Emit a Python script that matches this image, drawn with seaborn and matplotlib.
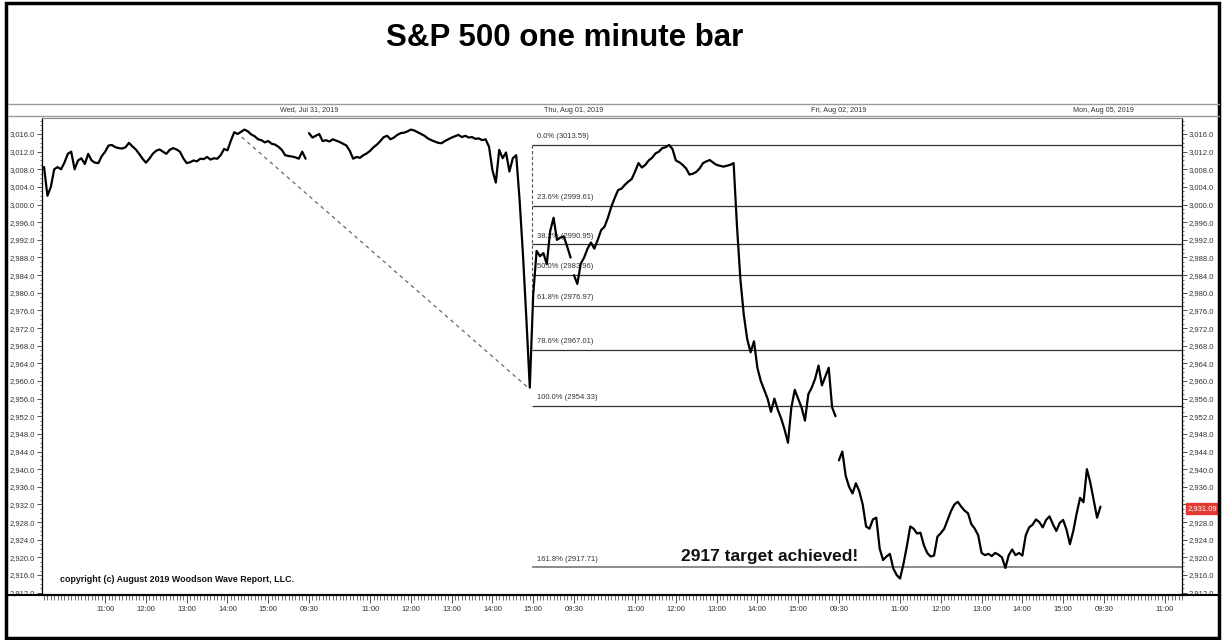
import numpy as np
import pandas as pd
import matplotlib
matplotlib.use("Agg")
import matplotlib.pyplot as plt
import matplotlib.ticker as mticker
from matplotlib.lines import Line2D
from matplotlib.patches import Rectangle
from matplotlib.transforms import blended_transform_factory
import seaborn as sns

# ---------------- data ----------------
title = "S&P 500 one minute bar"
session_names = ["Tue, Jul 30, 2019", "Wed, Jul 31, 2019", "Thu, Aug 01, 2019", "Fri, Aug 02, 2019"]
date_labels = ["Wed, Jul 31, 2019", "Thu, Aug 01, 2019", "Fri, Aug 02, 2019", "Mon, Aug 05, 2019"]

jul30 = [3008.5, 3002.0, 3004.0, 3008.0, 3008.5, 3008.0, 3009.5, 3011.5, 3012.0, 3008.0,
         3010.0, 3010.5, 3009.2, 3011.5, 3010.0, 3009.5, 3009.4, 3011.0, 3012.0, 3013.4,
         3013.5, 3013.0, 3012.8, 3012.7, 3013.0, 3014.0, 3013.2, 3012.5, 3011.5, 3010.4,
         3009.5, 3010.4, 3011.5, 3012.2, 3012.5, 3012.0, 3011.5, 3012.4, 3012.8, 3012.5,
         3012.0, 3010.5, 3009.4, 3009.6, 3010.0, 3009.8, 3010.4, 3010.3, 3010.8, 3010.2,
         3010.5, 3010.4, 3011.2, 3012.6, 3012.3, 3014.5, 3016.4, 3016.0, 3016.5, 3017.0,
         3016.6, 3015.9, 3015.5, 3014.8, 3014.6, 3014.1, 3014.4, 3013.8, 3013.6, 3013.1,
         3012.4, 3011.2, 3011.0, 3010.9, 3010.7, 3010.4, 3012.0, 3010.4]
jul31 = [3016.2, 3015.2, 3015.6, 3016.0, 3014.4, 3014.6, 3014.3, 3014.8, 3014.5, 3014.2,
         3013.8, 3013.4, 3012.2, 3010.4, 3010.8, 3010.6, 3011.2, 3011.6, 3012.2, 3013.0,
         3013.6, 3014.4, 3015.3, 3015.6, 3014.8, 3015.2, 3015.8, 3016.2, 3016.3, 3016.6,
         3017.0, 3016.8, 3016.4, 3016.0, 3015.6, 3015.0, 3014.6, 3014.3, 3014.0, 3013.9,
         3014.4, 3014.8, 3015.2, 3015.5, 3015.8, 3015.3, 3015.6, 3015.2, 3015.3, 3014.9,
         3015.0, 3014.6, 3014.8, 3013.1, 3007.8, 3005.0, 3012.4, 3010.5, 3011.8, 3007.5,
         3010.5, 3011.2, 3001.0, 2988.5, 2974.0, 2958.5, 2979.5, 2989.5, 2988.3, 2989.0,
         2986.5, 2994.0, 2997.0, 2992.0, 2992.5, 2992.8, 2990.5, 2988.0]
aug01 = [2984.0, 2982.0, 2986.6, 2988.0, 2990.0, 2991.4, 2990.0, 2992.0, 2994.2, 2995.0,
         2997.0, 2999.5, 3001.5, 3003.3, 3003.6, 3004.5, 3005.2, 3005.8, 3007.5, 3009.4,
         3008.4, 3009.0, 3010.0, 3010.6, 3011.6, 3012.0, 3012.8, 3013.0, 3013.5, 3012.6,
         3010.0, 3009.6, 3009.0, 3008.2, 3006.8, 3007.0, 3007.4, 3008.2, 3009.4, 3009.8,
         3010.1, 3009.5, 3009.0, 3008.8, 3008.6, 3008.8, 3009.0, 3009.4, 2995.0, 2983.0,
         2975.0, 2969.5, 2966.5, 2969.0, 2963.0, 2960.0, 2958.0, 2956.0, 2953.0, 2956.0,
         2953.5, 2951.5, 2949.0, 2946.0, 2954.0, 2958.0, 2956.0, 2954.0, 2951.0, 2957.0,
         2958.5, 2960.5, 2963.5, 2959.0, 2961.0, 2963.0, 2954.0, 2952.0]
aug02 = [2942.0, 2944.0, 2938.5, 2936.0, 2934.5, 2936.8, 2935.0, 2932.0, 2927.0, 2926.5,
         2928.6, 2929.0, 2922.0, 2919.4, 2920.2, 2920.8, 2917.5, 2916.0, 2915.2, 2918.5,
         2922.5, 2927.0, 2926.5, 2925.4, 2925.6, 2922.8, 2921.0, 2920.2, 2920.4, 2924.7,
         2925.5, 2926.5, 2928.5, 2930.5, 2932.0, 2932.6, 2931.5, 2930.6, 2930.0, 2927.5,
         2926.5, 2925.0, 2921.0, 2920.5, 2920.8, 2920.3, 2921.0, 2920.6, 2920.0, 2917.6,
         2920.5, 2921.8, 2920.5, 2921.0, 2920.4, 2925.0, 2926.8, 2927.4, 2928.6, 2928.0,
         2926.8, 2928.5, 2929.3, 2927.5, 2926.0, 2927.8, 2928.5, 2926.3, 2923.0, 2926.0,
         2930.0, 2933.5, 2932.5, 2940.0, 2937.0, 2933.0, 2929.0, 2931.5]
sessions = [jul30, jul31, aug01, aug02]
bar_step = 5          # minutes between samples
session_len = 390     # minutes per trading session

hour_labels = ["09:30", "11:00", "12:00", "13:00", "14:00", "15:00"]
hour_offsets = [0, 90, 150, 210, 270, 330]

fib_pcts = ["0.0%", "23.6%", "38.2%", "50.0%", "61.8%", "78.6%", "100.0%", "161.8%"]
fib_levels = [3013.59, 2999.61, 2990.95, 2983.96, 2976.97, 2967.01, 2954.33, 2917.71]
fib_anchor = 718      # minute index where the fib tool starts
trend_x = [291, 713]
trend_y = [3015.3, 2958.4]
last_price = 2931.09
note = "2917 target achieved!"
copyright_txt = "copyright (c) August 2019 Woodson Wave Report, LLC."

# ---------------- build frame ----------------
rows = []
for d, vals in enumerate(sessions):
    for i, v in enumerate(vals):
        rows.append({"day": session_names[d], "minute": d * session_len + i * bar_step, "price": v})
df = pd.DataFrame(rows)

sns.set_style("white")
plt.rcParams["font.family"] = ["Liberation Sans", "DejaVu Sans"]
plt.rcParams["text.color"] = "black"

W, H = 1222, 640
fig = plt.figure(figsize=(W / 100, H / 100), dpi=100)
fig.patch.set_facecolor("white")
ax = fig.add_axes([42 / W, 45 / H, 1140 / W, 477 / H])

XMAX = 1675
YLIM = (2911.47, 3019.63)
sns.lineplot(data=df, x="minute", y="price", units="day", estimator=None,
             color="black", linewidth=1.6, ax=ax, legend=False, zorder=5)

ax.set_xlim(-3, XMAX)
ax.set_ylim(*YLIM)
ax.set_xlabel("")
ax.set_ylabel("")

ylab_fmt = mticker.FuncFormatter(lambda v, p: f"{v:,.1f}")
ax.yaxis.set_major_locator(mticker.MultipleLocator(4))
ax.yaxis.set_minor_locator(mticker.MultipleLocator(1))
ax.yaxis.set_major_formatter(ylab_fmt)
ax.tick_params(axis="y", which="both", left=True, right=False, labelleft=True,
               labelright=False, direction="out", labelsize=5.5, colors="#333333", pad=1.5)
ax.tick_params(axis="y", which="major", length=3.5, width=0.6)
ax.tick_params(axis="y", which="minor", length=1.5, width=0.5)

# right axis labels (the price marker hides the 2,932.0 label)
axr = ax.twinx()
axr.set_ylim(*YLIM)
axr.yaxis.set_major_locator(mticker.MultipleLocator(4))
axr.yaxis.set_minor_locator(mticker.MultipleLocator(1))
axr.yaxis.set_major_formatter(mticker.FuncFormatter(
    lambda v, p: "" if abs(v - 2932) < 0.01 else f"{v:,.1f}"))
axr.tick_params(axis="y", which="both", direction="out", labelsize=5.5, colors="#333333", pad=1.5)
axr.tick_params(axis="y", which="major", length=3.5, width=0.6)
axr.tick_params(axis="y", which="minor", length=1.5, width=0.5)
for s in axr.spines.values():
    s.set_visible(False)
axr.grid(False)

# x axis ticks
xt, xl = [], []
for d in range(5):
    for lab, off in zip(hour_labels, hour_offsets):
        if d == 0 and off == 0:
            continue
        pos = d * session_len + off
        if pos > XMAX:
            continue
        xt.append(pos)
        xl.append(lab)
ax.set_xticks(xt)
ax.set_xticklabels(xl)
ax.xaxis.set_minor_locator(mticker.MultipleLocator(5))
ax.tick_params(axis="x", which="both", bottom=True, direction="out", labelsize=5.5,
               colors="#333333", pad=2)
ax.tick_params(axis="x", which="major", length=6, width=0.6)
ax.tick_params(axis="x", which="minor", length=3.5, width=0.5)

for s in ["left", "right", "bottom"]:
    ax.spines[s].set_color("black")
    ax.spines[s].set_linewidth(0.9)
ax.spines["bottom"].set_linewidth(1.5)
ax.spines["top"].set_color("#888888")
ax.spines["top"].set_linewidth(0.8)
ax.grid(False)

# fib levels
for k, (pct, lvl) in enumerate(zip(fib_pcts, fib_levels)):
    col = "#8a8a8a" if k == len(fib_levels) - 1 else "#333333"
    lw = 1.4 if k == len(fib_levels) - 1 else 0.9
    ax.hlines(lvl, fib_anchor, XMAX, colors=col, linewidth=lw, zorder=2)
    ax.annotate(f"{pct} ({lvl:.2f})", (fib_anchor + 7, lvl), xytext=(0, 6),
                textcoords="offset points", fontsize=5.5, va="center", ha="left",
                color="#333333", zorder=3)
ax.plot([fib_anchor, fib_anchor], [fib_levels[0], fib_levels[4]], ls=(0, (3, 2)),
        color="#555555", lw=0.8, zorder=2)
ax.plot(trend_x, trend_y, ls=(0, (3, 3)), color="#666666", lw=0.9, zorder=2)

# annotations
ax.text(1068, 2920.3, note, fontsize=12.5, fontweight="bold", ha="center", va="center",
        color="#111111", zorder=6)
ax.text(23, 2914.9, copyright_txt, fontsize=6.4, fontweight="bold", ha="left", va="center",
        color="#111111")
axr.annotate(f"{last_price:,.2f}", xy=(1, last_price), xycoords=("axes fraction", "data"),
             xytext=(4, 0), textcoords="offset points", fontsize=5.5, color="white",
             va="center", ha="left", annotation_clip=False,
             bbox=dict(boxstyle="square,pad=0.25", fc="#e23a33", ec="#e23a33"))

# title and date strip
fig.text(565 / W, 1 - 38 / H, title, fontsize=22.5, fontweight="bold", ha="center", va="center",
         color="black")
for ypx in (104, 116):
    fig.add_artist(Line2D([8 / W, 1219 / W], [1 - ypx / H] * 2, color="#9a9a9a", lw=1.0))
trans = blended_transform_factory(ax.transData, fig.transFigure)
for d, lab in enumerate(date_labels):
    ax.text((d + 1) * session_len, 1 - 110 / H, lab, transform=trans, fontsize=5.2,
            ha="center", va="center", color="#333333", clip_on=False)

fig.add_artist(Line2D([8 / W, 1219 / W], [45 / H] * 2, color="black", lw=1.5))
fig.add_artist(Rectangle((6 / W, 2 / H), (1219 - 6) / W, (637 - 2) / H, transform=fig.transFigure,
                         fill=False, ec="black", lw=2.5))

fig.savefig("out.png", dpi=100)
